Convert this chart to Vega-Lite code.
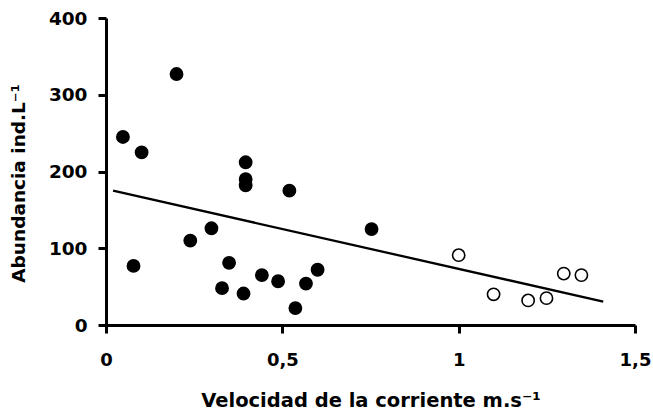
{
  "$schema": "https://vega.github.io/schema/vega-lite/v6.json",
  "autosize": "none",
  "width": 529,
  "height": 307,
  "padding": {"left": 106, "top": 18, "right": 18, "bottom": 89},
  "background": "white",
  "datasets": {
    "puntos": [
      {"velocidad": 0.048, "abundancia": 245, "grupo": "lleno"},
      {"velocidad": 0.101, "abundancia": 225, "grupo": "lleno"},
      {"velocidad": 0.2, "abundancia": 327, "grupo": "lleno"},
      {"velocidad": 0.396, "abundancia": 212, "grupo": "lleno"},
      {"velocidad": 0.396, "abundancia": 190, "grupo": "lleno"},
      {"velocidad": 0.396, "abundancia": 182, "grupo": "lleno"},
      {"velocidad": 0.52, "abundancia": 175, "grupo": "lleno"},
      {"velocidad": 0.078, "abundancia": 77, "grupo": "lleno"},
      {"velocidad": 0.239, "abundancia": 110, "grupo": "lleno"},
      {"velocidad": 0.299, "abundancia": 126, "grupo": "lleno"},
      {"velocidad": 0.349, "abundancia": 81, "grupo": "lleno"},
      {"velocidad": 0.329, "abundancia": 48, "grupo": "lleno"},
      {"velocidad": 0.39, "abundancia": 41, "grupo": "lleno"},
      {"velocidad": 0.442, "abundancia": 65, "grupo": "lleno"},
      {"velocidad": 0.488, "abundancia": 57, "grupo": "lleno"},
      {"velocidad": 0.537, "abundancia": 22, "grupo": "lleno"},
      {"velocidad": 0.567, "abundancia": 54, "grupo": "lleno"},
      {"velocidad": 0.6, "abundancia": 72, "grupo": "lleno"},
      {"velocidad": 0.753, "abundancia": 125, "grupo": "lleno"},
      {"velocidad": 1.0, "abundancia": 91, "grupo": "abierto"},
      {"velocidad": 1.099, "abundancia": 40, "grupo": "abierto"},
      {"velocidad": 1.197, "abundancia": 32, "grupo": "abierto"},
      {"velocidad": 1.249, "abundancia": 35, "grupo": "abierto"},
      {"velocidad": 1.298, "abundancia": 67, "grupo": "abierto"},
      {"velocidad": 1.348, "abundancia": 65, "grupo": "abierto"}
    ],
    "recta": [
      {"velocidad": 0.02, "abundancia": 175},
      {"velocidad": 1.41, "abundancia": 30.5}
    ]
  },
  "layer": [
    {
      "data": {"name": "recta"},
      "mark": {"type": "line", "color": "black", "strokeWidth": 2.3},
      "encoding": {
        "x": {"field": "velocidad", "type": "quantitative"},
        "y": {"field": "abundancia", "type": "quantitative"}
      }
    },
    {
      "data": {"name": "puntos"},
      "mark": {"type": "point", "shape": "circle", "filled": true, "size": 150, "stroke": "black", "strokeWidth": 1.6, "opacity": 1},
      "encoding": {
        "x": {
          "field": "velocidad", "type": "quantitative",
          "scale": {"domain": [0, 1.5], "nice": false, "zero": false},
          "axis": {
            "values": [0, 0.5, 1, 1.5],
            "labelExpr": "replace(toString(datum.value), '.', ',')",
            "title": "Velocidad de la corriente m.s⁻¹",
            "grid": false,
            "domainColor": "black", "domainWidth": 3,
            "tickColor": "black", "tickWidth": 3, "tickSize": 8,
            "labelFont": "DejaVu Sans", "labelFontWeight": "bold", "labelFontSize": 18, "labelColor": "black",
            "labelPadding": 18, "labelFlush": false,
            "titleFont": "DejaVu Sans", "titleFontWeight": "bold", "titleFontSize": 19.5, "titleColor": "black",
            "titlePadding": 22
          }
        },
        "y": {
          "field": "abundancia", "type": "quantitative",
          "scale": {"domain": [0, 400], "nice": false},
          "axis": {
            "values": [0, 100, 200, 300, 400],
            "title": "Abundancia ind.L⁻¹",
            "grid": false,
            "domainColor": "black", "domainWidth": 3,
            "tickColor": "black", "tickWidth": 3, "tickSize": 8,
            "labelFont": "DejaVu Sans", "labelFontWeight": "bold", "labelFontSize": 18.5, "labelColor": "black",
            "labelPadding": 11, "labelFlush": false,
            "titleFont": "DejaVu Sans", "titleFontWeight": "bold", "titleFontSize": 18.5, "titleColor": "black",
            "titlePadding": 20,
            "titleY": 165
          }
        },
        "fill": {
          "field": "grupo", "type": "nominal",
          "scale": {"domain": ["lleno", "abierto"], "range": ["black", "white"]},
          "legend": null
        }
      }
    }
  ],
  "config": {"view": {"stroke": null}}
}
